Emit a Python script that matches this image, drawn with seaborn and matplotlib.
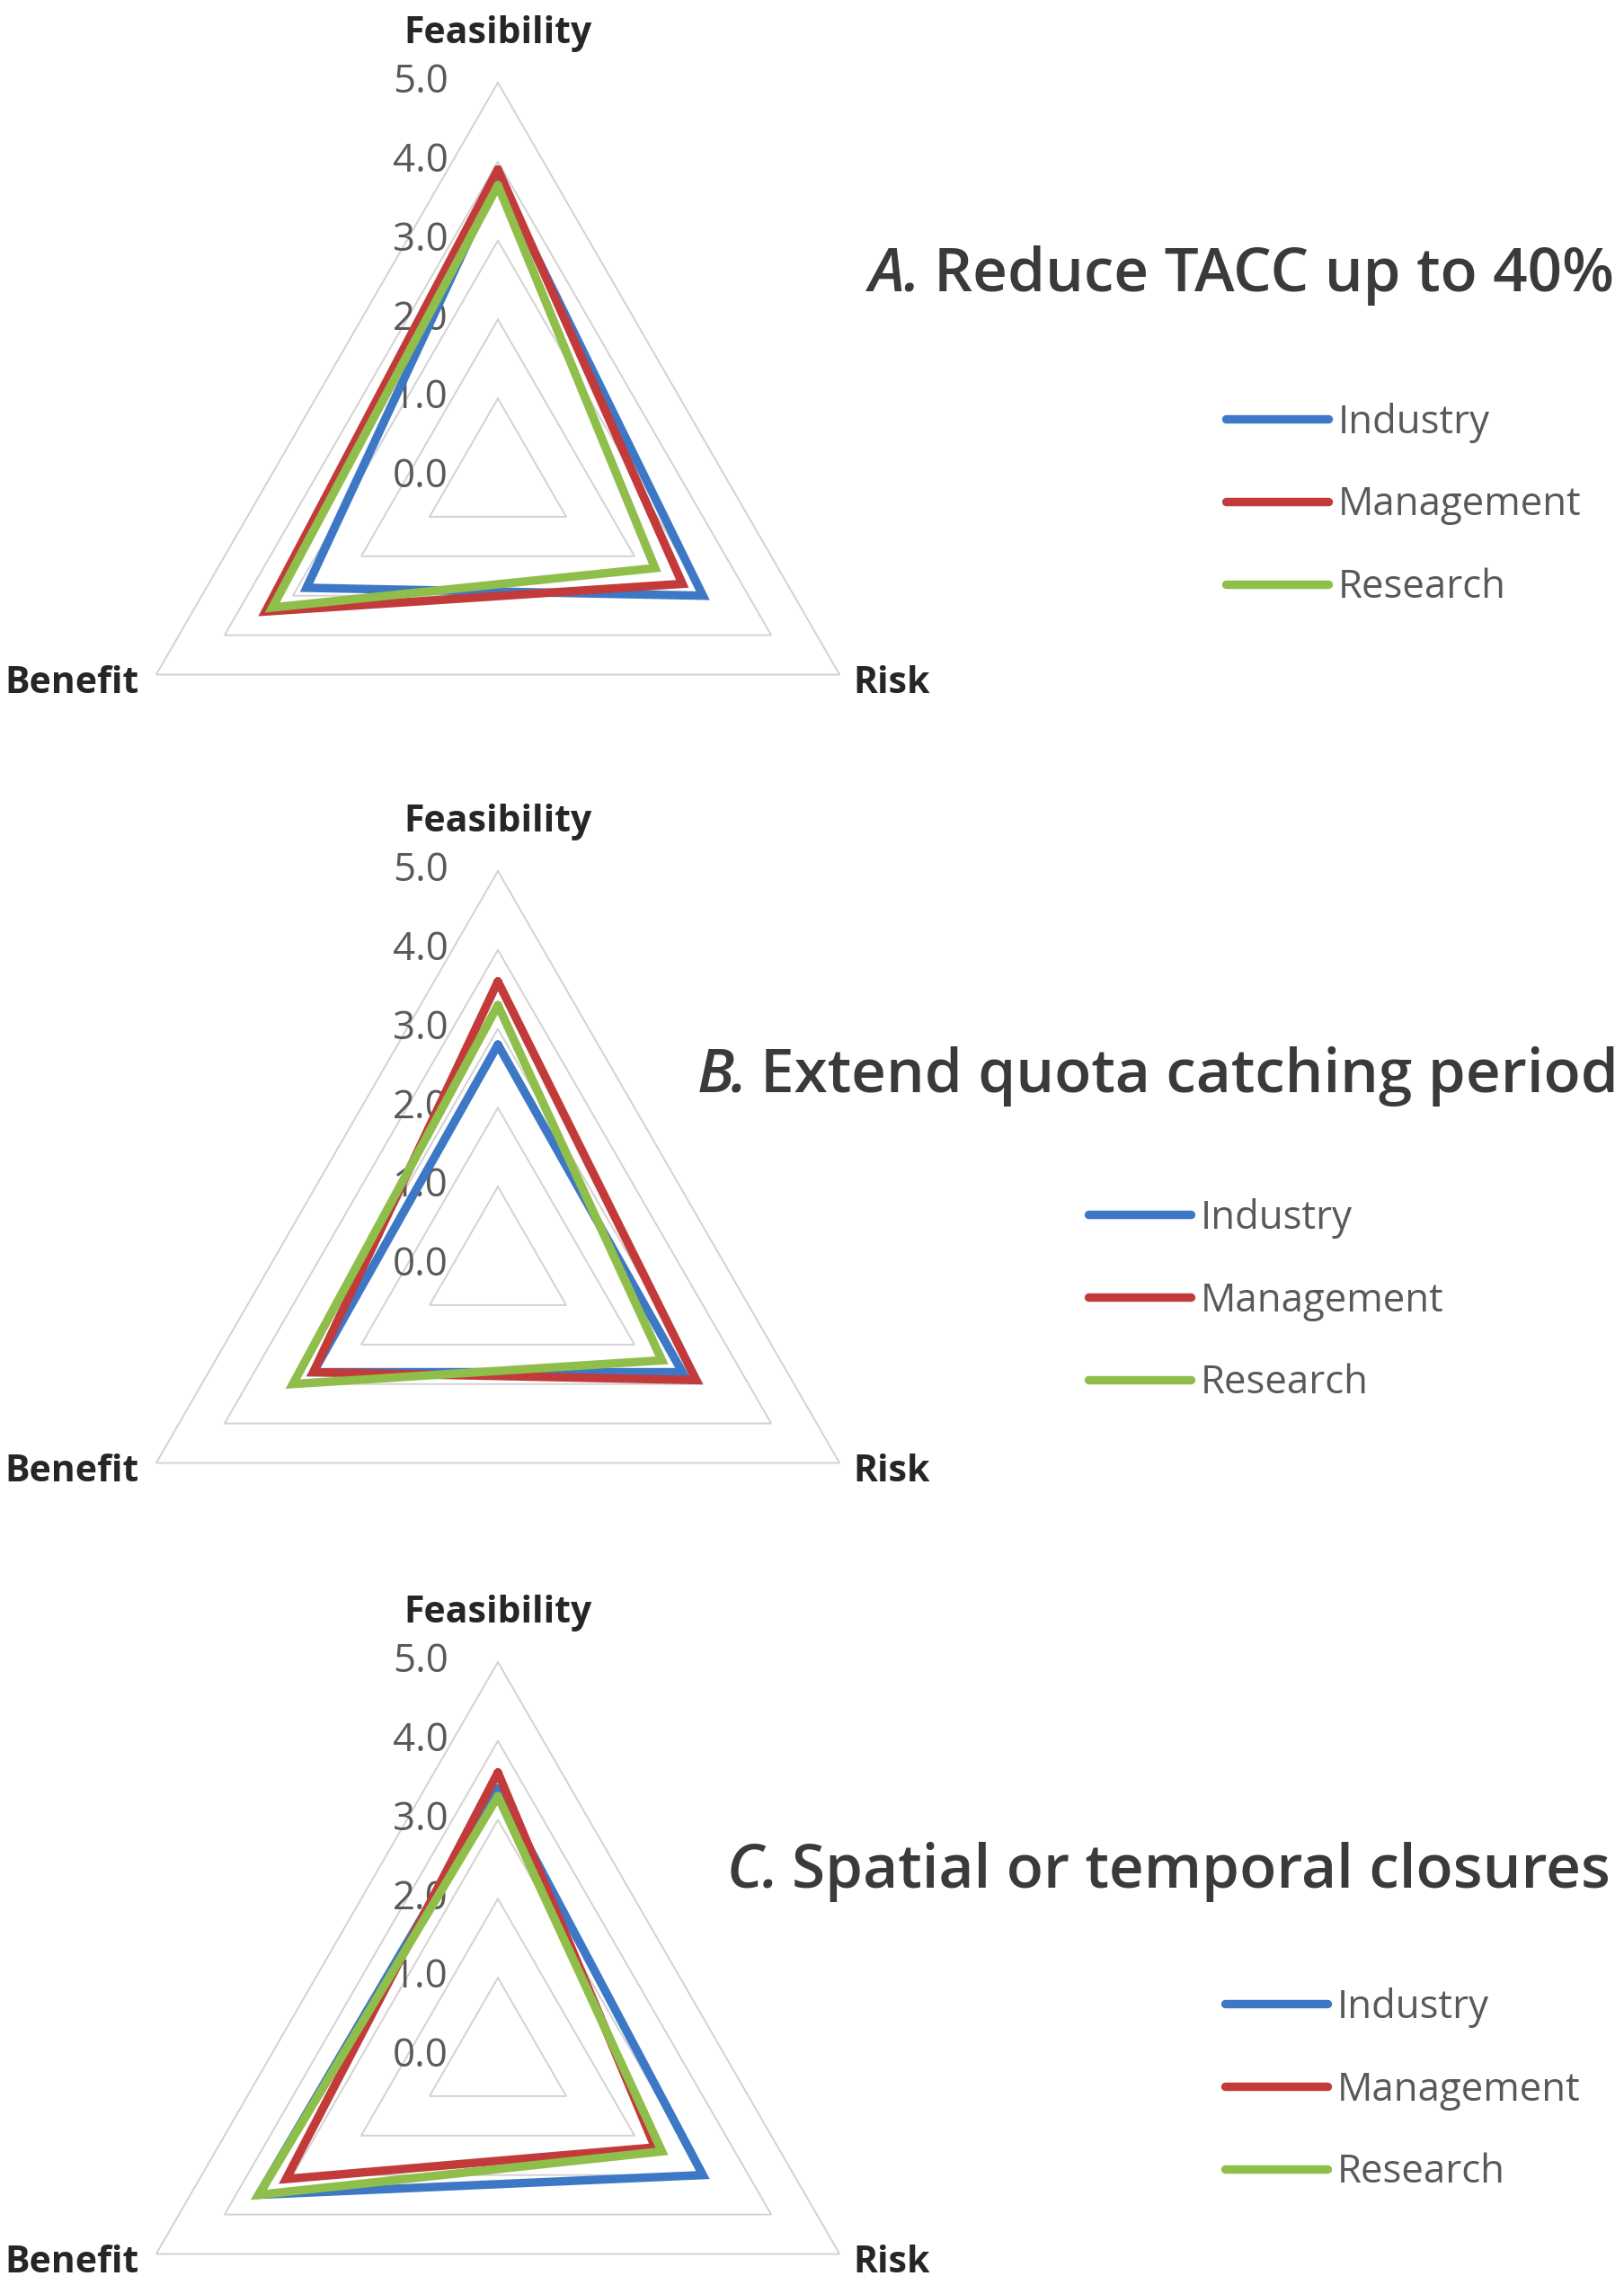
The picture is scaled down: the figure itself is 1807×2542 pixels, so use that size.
import numpy as np
import pandas as pd
import matplotlib
matplotlib.use('Agg')
import matplotlib.pyplot as plt
import seaborn as sns

# categories / series
criteria = ['Feasibility', 'Risk', 'Benefit']
groups = ['Industry', 'Management', 'Research']
levels = [0.0, 1.0, 2.0, 3.0, 4.0, 5.0]

# scores in order Feasibility, Risk, Benefit
tacc_industry = [3.8, 3.0, 2.8]
tacc_management = [3.9, 2.7, 3.4]
tacc_research = [3.7, 2.3, 3.3]

quota_industry = [2.8, 2.7, 2.7]
quota_management = [3.6, 2.9, 2.7]
quota_research = [3.3, 2.4, 3.0]

closure_industry = [3.4, 3.0, 3.5]
closure_management = [3.6, 2.3, 3.1]
closure_research = [3.3, 2.4, 3.5]

panel_letters = ['A.', 'B.', 'C.']
panel_titles = ['Reduce TACC up to 40%', 'Extend quota catching period',
                'Spatial or temporal closures']

palette = {'Industry': '#3D78C6', 'Management': '#C23B3A', 'Research': '#8FBE4B'}

W, H = 1808, 2542
UNIT = 87.8  # pixels per score unit
CX = 554


def radar_frame(industry, management, research):
    rows = []
    for g, vals in zip(groups, [industry, management, research]):
        for c, v in zip(criteria + criteria[:1], vals + vals[:1]):
            rows.append({'group': g, 'criterion': c, 'value': v})
    df = pd.DataFrame(rows)
    theta = df['criterion'].map({c: 2 * np.pi * i / 3 for i, c in enumerate(criteria)})
    df['x'] = df['value'] * np.sin(theta)
    df['y'] = df['value'] * np.cos(theta)
    return df


sns.set_theme(style='white')
plt.rcParams['font.family'] = ['Open Sans', 'DejaVu Sans']

fig = plt.figure(figsize=(W / 100, H / 100), dpi=100)

# layout in pixels: radar centre y, title right/centre, legend left/centre
layout = [
    dict(cy=531, band=(0, 870), title=(1796, 306), legend=(1364, 562)),
    dict(cy=1408, band=(870, 1740), title=(1801, 1197), legend=(1211, 1447)),
    dict(cy=2288, band=(1740, 2542), title=(1792, 2082), legend=(1363, 2325)),
]
data = [
    (tacc_industry, tacc_management, tacc_research),
    (quota_industry, quota_management, quota_research),
    (closure_industry, closure_management, closure_research),
]

angles = np.array([0, 2 * np.pi / 3, 4 * np.pi / 3, 0])
label_kw = dict(va='center', fontsize=29.5, fontweight='bold', color='#262626')

for i, (lay, vals) in enumerate(zip(layout, data)):
    top, bottom = lay['band']
    ax = fig.add_axes([0, 1 - bottom / H, 1, (bottom - top) / H])
    ax.set_xlim((0 - CX) / UNIT, (W - CX) / UNIT)
    ax.set_ylim((lay['cy'] - bottom) / UNIT, (lay['cy'] - top) / UNIT)
    ax.axis('off')

    # triangular grid
    for lv in levels[1:]:
        ax.plot(lv * np.sin(angles), lv * np.cos(angles), color='#d2d2d2',
                lw=1.4, zorder=1, solid_joinstyle='miter')
    for lv in levels:
        ax.text(-0.63, lv, f'{lv:.1f}', ha='right', va='center', fontsize=31.5,
                color='#595959', zorder=1.5)

    df = radar_frame(*vals)
    sns.lineplot(data=df, x='x', y='y', hue='group', hue_order=groups,
                 palette=palette, sort=False, estimator=None, linewidth=6.8,
                 ax=ax, zorder=2)
    for ln in ax.lines:
        ln.set_solid_joinstyle('miter')

    # criterion labels
    ax.text(0, 5.62, criteria[0], ha='center', **label_kw)
    ax.text(4.5, -2.61, criteria[1], ha='left', **label_kw)
    ax.text(-4.55, -2.61, criteria[2], ha='right', **label_kw)

    handles, labels = ax.get_legend_handles_labels()
    ax.legend(handles, labels, loc='center left', frameon=False,
              bbox_to_anchor=(lay['legend'][0] / W, 1 - lay['legend'][1] / H),
              bbox_transform=fig.transFigure, fontsize=31.5, labelcolor='#595959',
              handlelength=2.6, handletextpad=0.25, labelspacing=1.08,
              borderpad=0, borderaxespad=0)

    tx, ty = lay['title']
    t = fig.text(tx / W, 1 - ty / H, panel_titles[i], ha='right', va='center',
                 fontsize=48.5, fontweight='semibold', color='#3a3a3a')
    fig.canvas.draw()
    bb = t.get_window_extent()
    fig.text((bb.x0 - 14) / W, 1 - ty / H, panel_letters[i], ha='right',
             va='center', fontsize=48.5, fontweight='semibold', style='italic',
             color='#3a3a3a')

fig.savefig('out.png', dpi=100, facecolor='white')
